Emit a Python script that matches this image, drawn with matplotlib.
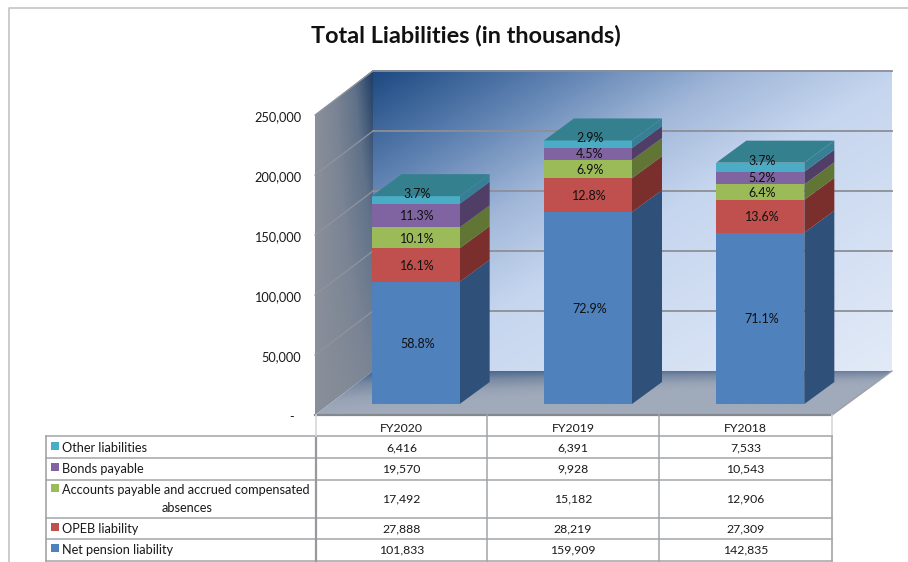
import matplotlib
matplotlib.use('Agg')

import numpy as np
import matplotlib.pyplot as plt
from matplotlib.colors import LinearSegmentedColormap
from matplotlib.patches import Polygon
from matplotlib.ticker import FuncFormatter

plt.rcParams['font.family'] = ['Lato', 'DejaVu Sans']

years = ["FY2020", "FY2019", "FY2018"]
# bottom to top in the stack
series_names = ["Net pension liability", "OPEB liability",
                "Accounts payable and accrued compensated\nabsences",
                "Bonds payable", "Other liabilities"]
net_pension = [101833, 159909, 142835]
opeb = [27888, 28219, 27309]
accounts_payable = [17492, 15182, 12906]
bonds_payable = [19570, 9928, 10543]
other_liabilities = [6416, 6391, 7533]
net_pension_pct = ["58.8%", "72.9%", "71.1%"]
opeb_pct = ["16.1%", "12.8%", "13.6%"]
accounts_payable_pct = ["10.1%", "6.9%", "6.4%"]
bonds_payable_pct = ["11.3%", "4.5%", "5.2%"]
other_liabilities_pct = ["3.7%", "2.9%", "3.7%"]
y_ticks = [0, 50000, 100000, 150000, 200000, 250000]

series_values = [net_pension, opeb, accounts_payable, bonds_payable, other_liabilities]
series_pct = [net_pension_pct, opeb_pct, accounts_payable_pct, bonds_payable_pct, other_liabilities_pct]
front_colors = ["#4f81bd", "#c0504d", "#9bbb59", "#8064a2", "#4bacc6"]
side_colors = ["#2f5078", "#7a2f2d", "#617535", "#503e66", "#367f95"]
top_color = "#35808f"
label_shift = [1, 1, 1, 0, -6]  # px, the labels are not quite centred in the original

W, H = 908, 562
PX_PER_UNIT = 300 / 250000


def px_axes(fig, left, top, right, bottom):
    """Axes placed with pixel coordinates (y from the top of the image)."""
    return fig.add_axes([left / W, 1 - bottom / H, (right - left) / W, (bottom - top) / H])


def gradient(ax, poly, values, extent, cmap):
    im = ax.imshow(values, extent=extent, cmap=cmap, vmin=0, vmax=1,
                   aspect='auto', interpolation='bilinear', zorder=1)
    im.set_clip_path(Polygon(poly, closed=True, transform=ax.transData))


fig = plt.figure(figsize=(W / 100, H / 100), dpi=100, facecolor='white')

# background layer in image pixels: frame, walls, floor, table
bg = fig.add_axes([0, 0, 1, 1])
bg.axis('off')

wall_cmap = LinearSegmentedColormap.from_list('wall', [
    (0, "#1d4a82"), (0.18, "#5c80b0"), (0.36, "#a3b9da"), (0.52, "#c6d6ef"), (1, "#e2eaf7")])
uu, vv = np.meshgrid(np.linspace(0, 1, 200), np.linspace(0, 1, 200))
gradient(bg, [(373, 70), (892, 70), (892, 371), (373, 371)], (uu + vv) / 2,
         (373, 892, 371, 70), wall_cmap)

side_cmap = LinearSegmentedColormap.from_list('side', ["#8a909a", "#7a8494", "#5f7189", "#1f3d66"])
gradient(bg, [(315, 115), (373, 70), (373, 371), (315, 415)], uu * (1 - 0.75 * vv),
         (315, 373, 415, 70), side_cmap)

floor_cmap = LinearSegmentedColormap.from_list('floor', [
    (0, "#3f5f8c"), (0.35, "#7a8aa3"), (0.7, "#97a3b5"), (1, "#a0aaba")])
gradient(bg, [(315, 415), (373, 371), (892, 371), (832, 415)],
         np.clip(vv * (1 + 1.5 * uu) + 0.25 * uu, 0, 1),
         (315, 892, 415, 371), floor_cmap)

bg.set_xlim(0, W)
bg.set_ylim(H, 0)

# gridlines run along the side wall and the back wall
for value in y_ticks[1:]:
    rise = value * PX_PER_UNIT
    bg.plot([315, 373], [415 - rise, 371 - rise], color="#8f949c", lw=0.9, zorder=2)
    bg.plot([373, 892], [371 - rise, 371 - rise], color="#8c8f96", lw=1.3, zorder=2)
bg.plot([315, 832], [415, 415], color="#84888f", lw=1.6, zorder=2)
bg.plot([832, 892], [415, 371], color="#9da0a6", lw=1, zorder=2)

# page frame
bg.plot([9, 9, W], [H, 8, 8], color="#c4c4c4", lw=1.2)

bg.text(466, 35.5, "Total Liabilities (in thousands)", fontsize=16.9, fontweight='bold',
        ha='center', va='center', color="#111111")

# table
row_edges = [436, 458, 479.5, 517.5, 539, 560.5]
col_edges = [316, 487, 659, 832]
line_color = "#a2a5a8"
for y in row_edges:
    bg.plot([46, 832], [y, y], color=line_color, lw=1.1, zorder=3)
bg.plot([46, 46], [436, 560.5], color=line_color, lw=1.2, zorder=3)
bg.plot([316, 316], [436, 560.5], color="#97999c", lw=1.6, zorder=3)
bg.plot([316, 316], [415, 436], color="#d5d7da", lw=1.2, zorder=3)
bg.plot([487, 487], [415, 560.5], color=line_color, lw=1.1, zorder=3)
bg.plot([659, 659], [415, 560.5], color=line_color, lw=1.1, zorder=3)
bg.plot([832, 832], [415, 436], color="#d5d7da", lw=1.2, zorder=3)
bg.plot([832, 832], [436, 560.5], color=line_color, lw=1.2, zorder=3)

for i, year in enumerate(years):
    bg.text((col_edges[i] + col_edges[i + 1]) / 2, 428.5, year, fontsize=8.8,
            ha='center', va='center', color="#1a1a1a")

for r, s in enumerate(reversed(range(len(series_names)))):
    top, bottom = row_edges[r], row_edges[r + 1]
    name = series_names[s]
    first_line = name.split("\n")[0]
    text_y = (top + bottom) / 2 + 0.5
    if "\n" in name:
        text_y = top + 10.5
        bg.text(187, bottom - 10, name.split("\n")[1], fontsize=9.2, ha='center', va='center', color="#1a1a1a")
    bg.text(62, text_y, first_line, fontsize=9.2, ha='left', va='center', color="#1a1a1a")
    bg.add_patch(Polygon([(51, text_y - 6), (59, text_y - 6), (59, text_y + 2), (51, text_y + 2)],
                         closed=True, facecolor=front_colors[s], edgecolor='none', zorder=3))
    for c, value in enumerate(series_values[s]):
        bg.text((col_edges[c] + col_edges[c + 1]) / 2, (top + bottom) / 2 + 0.5, f"{value:,}",
                fontsize=8.8, ha='center', va='center', color="#1a1a1a")

# value axis sits on the front edge of the side wall
axis_ax = px_axes(fig, 315, 116, 832, 416)
axis_ax.patch.set_alpha(0)
axis_ax.set_ylim(0, 250000)
axis_ax.set_yticks(y_ticks)
axis_ax.yaxis.set_major_formatter(FuncFormatter(lambda v, _: "-  " if v == 0 else f"{int(v):,}"))
axis_ax.tick_params(axis='y', length=0, pad=10, labelsize=9.2, labelcolor="#1a1a1a")
axis_ax.set_xticks([])
for spine in axis_ax.spines.values():
    spine.set_visible(False)

# bars stand on a plane set back from the front of the floor
bar_ax = px_axes(fig, 329.5, 104, 846.5, 404)
bar_ax.patch.set_alpha(0)
bar_ax.axis('off')
bar_ax.set_xlim(-0.5, 2.5)
bar_ax.set_ylim(0, 250000)

x = np.arange(len(years))
bar_width = 88 / (517 / 3)
half = bar_width / 2
depth_x = 30 / (517 / 3)
depth_y = 22 / PX_PER_UNIT

bottoms = np.zeros(len(years))
for s, values in enumerate(series_values):
    bar_ax.bar(x, values, width=bar_width, bottom=bottoms, color=front_colors[s], zorder=3)
    for i in range(len(years)):
        y0, y1 = bottoms[i], bottoms[i] + values[i]
        right = x[i] + half
        bar_ax.add_patch(Polygon([(right, y0), (right + depth_x, y0 + depth_y),
                                  (right + depth_x, y1 + depth_y), (right, y1)],
                                 closed=True, facecolor=side_colors[s], edgecolor='none',
                                 clip_on=False, zorder=2))
        bar_ax.annotate(series_pct[s][i], (x[i], (y0 + y1) / 2), xytext=(1.2, -label_shift[s] * 0.72),
                        textcoords='offset points', fontsize=9, ha='center', va='center',
                        color="#111111", zorder=5, annotation_clip=False)
    bottoms = bottoms + np.array(values)

for i in range(len(years)):
    left, right = x[i] - half, x[i] + half
    top = bottoms[i]
    bar_ax.add_patch(Polygon([(left, top), (right, top), (right + depth_x, top + depth_y),
                              (left + depth_x, top + depth_y)],
                             closed=True, facecolor=top_color, edgecolor='none',
                             clip_on=False, zorder=4))

fig.savefig('out.png', dpi=100)
